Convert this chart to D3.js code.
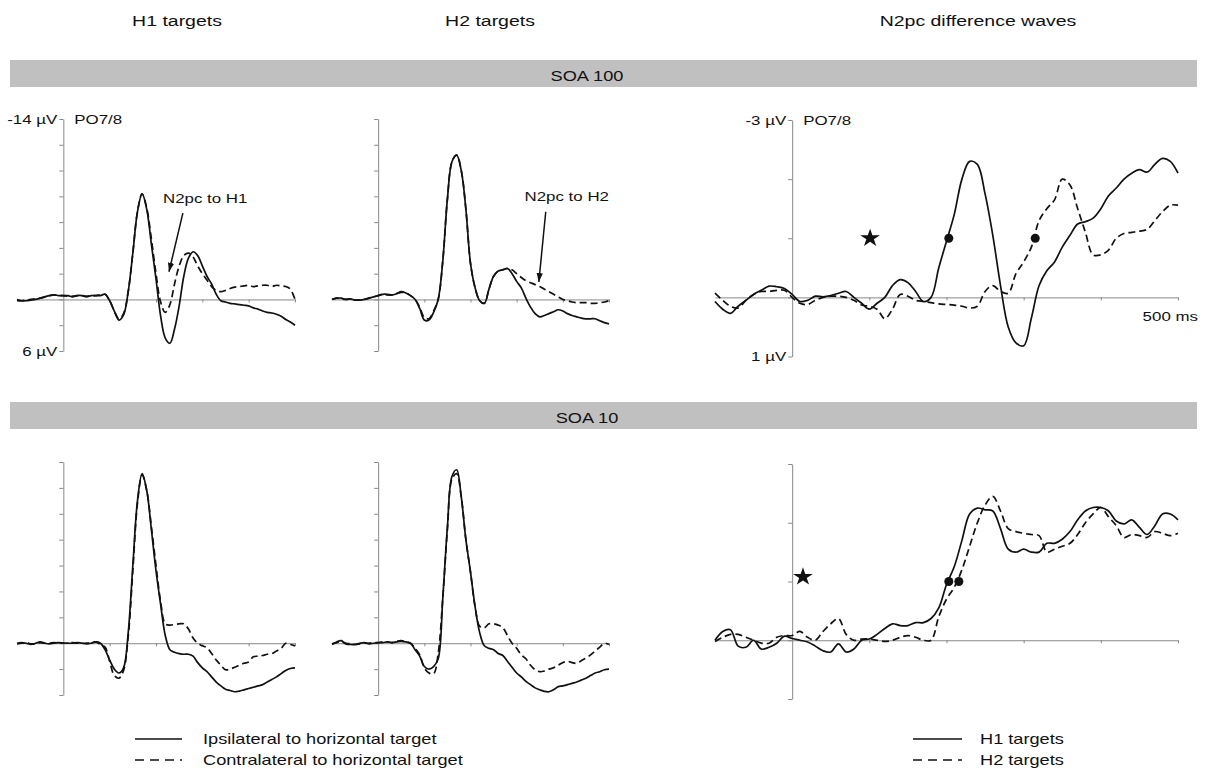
<!DOCTYPE html>
<html>
<head>
<meta charset="utf-8">
<script src="https://cdn.jsdelivr.net/npm/d3@7"></script>
<style>
  body { margin: 0; background: #fff; }
  text { font-family: "Liberation Sans", Arial, Helvetica, sans-serif; fill: #111; }
</style>
</head>
<body>
<svg id="chart" width="1207" height="774"></svg>
<script>
// sample times in ms, one value every 10 ms
const times = d3.range(-100, 501, 10);

// SOA 100, raw ERPs at PO7/8 (µV, negative up)
const h1Soa100Ipsi = [
  0, 0.1, 0.1, 0.05, 0, -0.1, -0.2, -0.3, -0.35, -0.3,
  -0.3, -0.3, -0.2, -0.3, -0.3, -0.2, -0.3, -0.3, -0.3, -0.4,
  0.1, 0.9, 1.6, 1.2, -0.6, -3.6, -6.8, -8.2, -7.0, -4.3,
  -1.6, 1.3, 3.0, 3.4, 2.3, 0.5, -1.8, -3.2, -3.7, -3.4,
  -2.6, -1.8, -1.2, -0.4, 0.1, 0.2, 0.3, 0.35, 0.4, 0.45,
  0.5, 0.65, 0.75, 0.9, 1.0, 1.05, 1.15, 1.3, 1.55, 1.75,
  2.0
];
const h1Soa100Contra = [
  0.1, 0.1, 0.05, 0, -0.05, -0.1, -0.2, -0.3, -0.35, -0.3,
  -0.3, -0.25, -0.25, -0.3, -0.3, -0.25, -0.3, -0.3, -0.35, -0.4,
  0.1, 0.9, 1.5, 1.1, -0.6, -3.6, -6.8, -8.2, -7.1, -4.7,
  -2.0, 0.2, 1.0, 0.4, -1.2, -2.6, -3.4, -3.6, -3.3, -2.6,
  -2.0, -1.5, -1.0, -0.7, -0.6, -0.7, -0.85, -0.95, -1.0, -1.05,
  -1.1, -1.0, -1.05, -1.1, -1.1, -1.0, -1.1, -1.05, -1.0, -0.8,
  0.0
];
const h2Soa100Ipsi = [
  0, -0.1, -0.1, 0, -0.05, 0.05, 0.05, 0, -0.1, -0.2,
  -0.3, -0.4, -0.4, -0.35, -0.45, -0.6, -0.5, -0.3, 0.0, 0.7,
  1.6, 1.6, 1.0, 0.0, -3.0, -7.8, -10.7, -11.2, -10.0, -7.0,
  -2.8, -0.9, 0.1, 0.3, -0.8, -1.8, -2.2, -2.3, -2.4, -2.0,
  -1.4, -0.9, -0.1, 0.6, 1.1, 1.35, 1.25, 1.1, 0.95, 0.8,
  0.9, 1.1, 1.25, 1.35, 1.45, 1.5, 1.5, 1.5, 1.65, 1.8,
  1.9
];
const h2Soa100Contra = [
  0, -0.1, -0.05, 0, -0.05, 0.05, 0.05, 0, -0.1, -0.2,
  -0.3, -0.4, -0.35, -0.35, -0.45, -0.55, -0.5, -0.3, 0.0, 0.6,
  1.4, 1.5, 0.9, 0.0, -3.0, -7.8, -10.7, -11.2, -10.0, -7.0,
  -2.8, -0.9, 0.1, 0.3, -0.8, -1.8, -2.2, -2.3, -2.4, -2.3,
  -2.0, -1.7, -1.45, -1.3, -1.15, -1.0, -0.8, -0.6, -0.4, -0.2,
  0.0, 0.1, 0.2, 0.25, 0.25, 0.25, 0.3, 0.3, 0.25, 0.2,
  0.1
];

// SOA 10, raw ERPs
const h1Soa10Ipsi = [
  0, -0.05, 0, 0.1, 0.0, -0.1, 0, 0.05, 0, -0.05,
  0, 0, 0, -0.05, 0, 0.05, 0, -0.1, 0, 0.5,
  1.3, 2.0, 2.3, 1.9, -0.8, -6.0, -11.0, -13.1, -11.8, -8.8,
  -5.6, -3.0, -0.6, 0.5, 0.7, 0.8, 0.85, 0.85, 1.0, 1.5,
  1.9, 2.2, 2.6, 3.0, 3.3, 3.55, 3.65, 3.75, 3.7, 3.6,
  3.5, 3.4, 3.3, 3.2, 3.0, 2.8, 2.6, 2.35, 2.1, 1.95,
  1.9
];
const h1Soa10Contra = [
  0.05, 0, -0.05, 0.05, 0.05, -0.05, 0, 0, -0.05, 0,
  0, 0, -0.05, 0, 0, 0, -0.05, -0.1, 0.1, 0.3,
  1.4, 2.5, 2.7, 2.1, -0.5, -5.6, -10.8, -13.0, -11.8, -9.0,
  -6.0, -3.2, -1.5, -1.4, -1.45, -1.5, -1.5, -1.1, -0.4, 0.0,
  0.2, 0.35, 0.8, 1.3, 1.7, 2.05, 2.0, 1.85, 1.7, 1.55,
  1.45, 1.05, 1.0, 0.95, 0.85, 0.8, 0.6, 0.4, 0.0, 0.1,
  0.2
];
const h2Soa10Ipsi = [
  0.1, -0.1, -0.2, 0.05, 0.1, 0.1, 0.0, -0.05, 0.05, 0.0,
  -0.05, -0.05, -0.1, -0.05, -0.1, -0.15, -0.1, 0.0, 0.5, 1.0,
  1.8, 2.0, 1.8, 1.2, -3.5, -9.0, -12.9, -13.4, -11.3, -8.0,
  -5.5, -2.8, -0.8, 0.2, 0.4, 0.5, 0.8, 0.95, 1.4, 1.85,
  2.3, 2.6, 2.95, 3.2, 3.45, 3.6, 3.72, 3.75, 3.6, 3.35,
  3.3, 3.2, 3.1, 3.0, 2.85, 2.7, 2.5, 2.3, 2.2, 2.05,
  2.0
];
const h2Soa10Contra = [
  0.05, -0.05, -0.1, 0.0, 0.05, 0.1, 0.05, 0.0, 0.0, -0.05,
  -0.05, -0.1, -0.1, -0.05, -0.15, -0.2, -0.1, 0.0, 0.4, 0.9,
  1.9, 2.3, 2.35, 0.8, -3.5, -8.8, -12.7, -13.1, -11.3, -8.0,
  -5.5, -2.8, -1.3, -1.2, -1.5, -1.5, -1.4, -1.2, -0.6, 0.0,
  0.4, 0.9, 1.2, 1.7, 2.05, 2.2, 2.15, 2.0, 1.9, 1.7,
  1.5, 1.4, 1.5, 1.55, 1.35, 1.15, 0.9, 0.6, 0.3, 0.0,
  0.1
];

// N2pc difference waves (contra - ipsi)
const diffSoa100H1 = [
  0.07, 0.2, 0.27, 0.15, 0.05, -0.05, -0.12, -0.19, -0.18, -0.15,
  -0.05, 0.07, 0.05, -0.02, -0.01, -0.03, -0.07, -0.1, 0.0, 0.1,
  0.2, 0.1, 0.0, -0.2, -0.3, -0.25, -0.1, 0.07, 0.0, -0.5,
  -0.95, -1.4, -2.0, -2.3, -2.25, -1.75, -1.05, -0.2, 0.5, 0.77,
  0.82, 0.35, -0.2, -0.45, -0.6, -0.85, -1.05, -1.24, -1.28, -1.34,
  -1.5, -1.72, -1.85, -2.0, -2.1, -2.16, -2.12, -2.25, -2.35, -2.3,
  -2.1
];
const diffSoa100H2 = [
  -0.07, 0.05, 0.15, 0.18, 0.05, -0.05, -0.1, -0.1, -0.12, -0.12,
  0.0, 0.1, 0.12, 0.05, 0.0, -0.02, -0.02, 0.0, 0.05, 0.13,
  0.15, 0.2, 0.36, 0.2, -0.05, -0.02, 0.05, 0.07, 0.09, 0.11,
  0.12, 0.13, 0.15, 0.18, 0.15, -0.1, -0.2, -0.1, -0.07, -0.4,
  -0.6, -0.85, -1.3, -1.5, -1.65, -2.0, -1.9, -1.5, -1.1, -0.72,
  -0.72, -0.8, -1.0, -1.08, -1.1, -1.12, -1.15, -1.3, -1.45, -1.56,
  -1.56
];
const diffSoa10H1 = [
  0.0, -0.15, -0.18, 0.1, 0.12, 0.0, 0.15, 0.12, 0.05, -0.07,
  -0.03, 0.0, 0.03, 0.1, 0.18, 0.2, 0.06, 0.2, 0.15, 0.0,
  -0.02, -0.1, -0.2, -0.28, -0.25, -0.25, -0.3, -0.3, -0.37, -0.55,
  -0.95, -1.25, -1.7, -2.15, -2.25, -2.22, -2.2, -1.9, -1.55, -1.5,
  -1.55, -1.5, -1.5, -1.65, -1.65, -1.72, -1.85, -2.05, -2.2, -2.26,
  -2.26, -2.2, -2.03, -1.98, -2.05, -1.92, -1.8, -1.95, -2.15, -2.15,
  -2.05
];
const diffSoa10H2 = [
  0.02, -0.05, -0.1, -0.1, -0.05, 0.0, 0.05, 0.05, -0.05, -0.08,
  -0.08, -0.15, -0.05, 0.0, -0.15, -0.28, -0.37, -0.1, 0.0, -0.02,
  -0.02, 0.0, 0.02, 0.0, -0.05, -0.08, -0.05, 0.0, 0.0, -0.4,
  -0.7, -0.9, -1.2, -1.6, -2.0, -2.3, -2.45, -2.2, -1.9, -1.85,
  -1.82, -1.8, -1.78, -1.5, -1.55, -1.6, -1.65, -1.8, -2.0, -2.15,
  -2.26, -2.1, -1.95, -1.75, -1.8, -1.78, -1.75, -1.85, -1.82, -1.78,
  -1.82
];

// 50% area latency markers and significance stars (ms, µV)
const onsetSoa100 = [[203, -1], [315, -1]];
const onsetSoa10 = [[203, -1], [216, -1]];
const starSoa100 = [[101, -1]];
const starSoa10 = [[14, -1.08]];

// tick values
const rawTicks = [-14, -12, -10, -8, -6, -4, -2, 0, 2, 4];
const diffTicks = [-3, -2, -1, 0, 1];
const timeTicks = [100, 200, 300, 400, 500];

const columnTitles = ['H1 targets', 'H2 targets', 'N2pc difference waves'];
const rowTitles = ['SOA 100', 'SOA 10'];
const legendRaw = ['Ipsilateral to horizontal target', 'Contralateral to horizontal target'];
const legendDiff = ['H1 targets', 'H2 targets'];

// ---------------------------------------------------------------
const svg = d3.select('#chart');
const SX = 1.3; // the source figure is stretched horizontally, text too

function label(x, y, str, size, anchor) {
  return svg.append('text')
    .attr('transform', `translate(${x},${y}) scale(${SX},1)`)
    .attr('font-size', size)
    .attr('text-anchor', anchor || 'start')
    .text(str);
}

svg.append('defs').append('marker')
  .attr('id', 'arrow')
  .attr('viewBox', '0 0 10 10')
  .attr('refX', 10).attr('refY', 5)
  .attr('markerWidth', 9).attr('markerHeight', 9)
  .attr('markerUnits', 'userSpaceOnUse')
  .attr('orient', 'auto')
  .append('path').attr('d', 'M0,1.5L10,5L0,8.5Z').attr('fill', '#111');

// headers
const titleX = [177, 490, 978];
columnTitles.forEach((t, i) => label(titleX[i], 26, t, 15, 'middle'));

const bands = [60, 402];
rowTitles.forEach((t, i) => {
  svg.append('rect')
    .attr('x', 10).attr('y', bands[i])
    .attr('width', 1187).attr('height', 27)
    .attr('fill', '#c0c0c0');
  label(587, bands[i] + 21, t, 14, 'middle');
});

// panels
const cols = [[17, 295], [332, 609], [715, 1178]];
const panels = [
  { col: 0, top: 119, bottom: 351, dom: [-14, 4], ticks: rawTicks, a: h1Soa100Ipsi, b: h1Soa100Contra,
    ends: ['-14 µV', '6 µV'], site: true },
  { col: 1, top: 119, bottom: 351, dom: [-14, 4], ticks: rawTicks, a: h2Soa100Ipsi, b: h2Soa100Contra },
  { col: 2, top: 120, bottom: 356.5, dom: [-3, 1], ticks: diffTicks, a: diffSoa100H1, b: diffSoa100H2,
    ends: ['-3 µV', '1 µV'], site: true, ms: true, dots: onsetSoa100, stars: starSoa100 },
  { col: 0, top: 462, bottom: 695, dom: [-14, 4], ticks: rawTicks, a: h1Soa10Ipsi, b: h1Soa10Contra },
  { col: 1, top: 462, bottom: 695, dom: [-14, 4], ticks: rawTicks, a: h2Soa10Ipsi, b: h2Soa10Contra },
  { col: 2, top: 464, bottom: 699, dom: [-3, 1], ticks: diffTicks, a: diffSoa10H1, b: diffSoa10H2,
    dots: onsetSoa10, stars: starSoa10 }
];

panels.forEach(p => {
  const x = d3.scaleLinear().domain([-100, 500]).range(cols[p.col]);
  const y = d3.scaleLinear().domain(p.dom).range([p.top, p.bottom]);
  p.x = x; p.y = y;
  const g = svg.append('g');

  const xa = g.append('g')
    .attr('transform', `translate(0,${y(0)})`)
    .call(d3.axisBottom(x).tickValues(timeTicks).tickSize(3).tickSizeOuter(0).tickFormat(''));
  const ya = g.append('g')
    .attr('transform', `translate(${x(0)},0)`)
    .call(d3.axisLeft(y).tickValues(p.ticks).tickSize(4).tickSizeOuter(0).tickFormat(''));
  [xa, ya].forEach(a => {
    a.selectAll('path, line').attr('stroke', '#888').attr('stroke-width', 1);
  });

  const line = d3.line()
    .x((d, i) => x(times[i]))
    .y(d => y(d))
    .curve(d3.curveCatmullRom.alpha(0.5));

  g.append('path').attr('d', line(p.a))
    .attr('fill', 'none').attr('stroke', '#111').attr('stroke-width', 1.7);
  g.append('path').attr('d', line(p.b))
    .attr('fill', 'none').attr('stroke', '#111').attr('stroke-width', 1.7)
    .attr('stroke-dasharray', '7,4');

  if (p.ends) {
    label(x(0) - 6, y(p.dom[0]) + 4.5, p.ends[0], 13, 'end');
    label(x(0) - 6, y(p.dom[1]) + 4.5, p.ends[1], 13, 'end');
  }
  if (p.site) label(x(0) + 11, y(p.dom[0]) + 4.5, 'PO7/8', 13);
  if (p.ms) label(x(500) + 20, y(0) + 24, '500 ms', 13, 'end');

  (p.dots || []).forEach(d => {
    g.append('circle').attr('cx', x(d[0])).attr('cy', y(d[1])).attr('r', 4.5).attr('fill', '#111');
  });
  (p.stars || []).forEach(d => {
    g.append('path')
      .attr('d', d3.symbol(d3.symbolStar, 100)())
      .attr('transform', `translate(${x(d[0])},${y(d[1])}) scale(1.1,1)`)
      .attr('fill', '#111');
  });
});

// N2pc annotations on the SOA 100 raw panels: [text t, text v, tail t, tail v, tip t, tip v]
const notes = [
  { panel: 0, text: 'N2pc to H1', at: [215, -7.5], tail: [258, -6.7], tip: [228, -2.15] },
  { panel: 1, text: 'N2pc to H2', at: [317, -7.6], tail: [363, -6.8], tip: [348, -1.35] }
];
notes.forEach(n => {
  const p = panels[n.panel];
  label(p.x(n.at[0]), p.y(n.at[1]), n.text, 13);
  svg.append('line')
    .attr('x1', p.x(n.tail[0])).attr('y1', p.y(n.tail[1]))
    .attr('x2', p.x(n.tip[0])).attr('y2', p.y(n.tip[1]))
    .attr('stroke', '#111').attr('stroke-width', 1.5)
    .attr('marker-end', 'url(#arrow)');
});

// legends
function legend(x0, x1, tx, names) {
  names.forEach((n, i) => {
    const yy = 739 + i * 21;
    svg.append('line')
      .attr('x1', x0).attr('x2', x1).attr('y1', yy).attr('y2', yy)
      .attr('stroke', '#111').attr('stroke-width', 1.5)
      .attr('stroke-dasharray', i ? '9,6' : null);
    label(tx, yy + 5, n, 14);
  });
}
legend(135, 182, 203, legendRaw);
legend(913, 962, 980, legendDiff);
</script>
</body>
</html>
